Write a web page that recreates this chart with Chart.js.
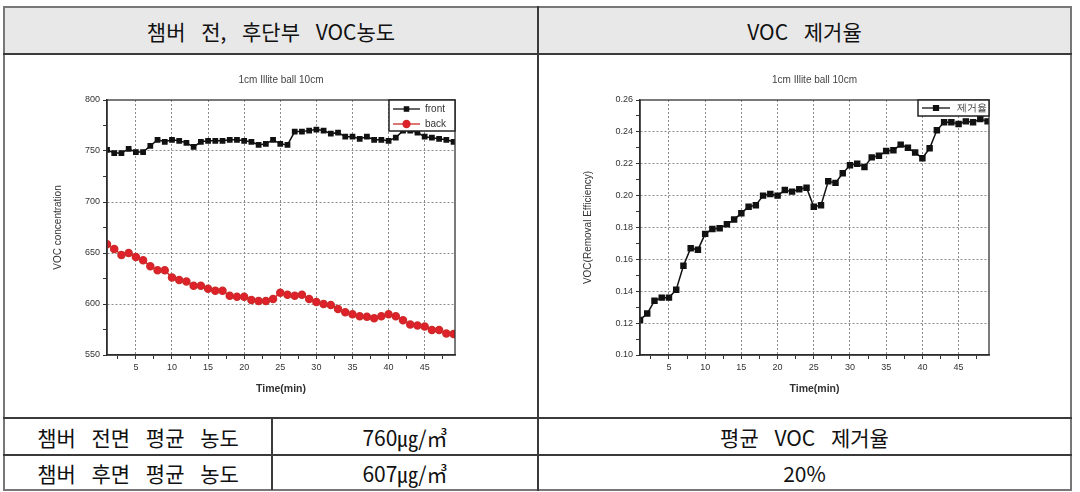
<!DOCTYPE html>
<html><head><meta charset="utf-8">
<script src="https://cdn.jsdelivr.net/npm/chart.js@4.4.0/dist/chart.umd.min.js"></script>
<style>
body{margin:0;background:#fff;width:1080px;height:492px;overflow:hidden;position:relative;font-family:"Noto Sans CJK KR",sans-serif;}
.ln{position:absolute;background:#3a3a3a;}
.lo{position:absolute;background:#777;}
.cell{position:absolute;display:flex;align-items:center;justify-content:center;font-size:21px;color:#111;white-space:nowrap;word-spacing:11px;}
.cv{position:absolute;}
</style></head><body>
<div style="position:absolute;left:4px;top:7px;width:1067px;height:47px;background:#e8e8e8"></div>
<div class="lo" style="left:3px;top:6px;width:1069px;height:2px"></div>
<div class="lo" style="left:3px;top:489px;width:1069px;height:2px"></div>
<div class="lo" style="left:3px;top:6px;width:2px;height:485px"></div>
<div class="lo" style="left:1070px;top:6px;width:2px;height:485px"></div>
<div class="ln" style="left:3px;top:53px;width:1069px;height:2px"></div>
<div class="ln" style="left:3px;top:417px;width:1069px;height:2px"></div>
<div class="ln" style="left:3px;top:454px;width:1069px;height:2px"></div>
<div class="ln" style="left:537px;top:6px;width:2px;height:485px"></div>
<div class="ln" style="left:271px;top:417px;width:2px;height:73px"></div>

<div class="cell" style="left:4px;top:7px;width:534px;height:47px">챔버 전, 후단부 VOC농도</div>
<div class="cell" style="left:538px;top:7px;width:533px;height:47px">VOC 제거율</div>
<div class="cell" style="left:4px;top:418px;width:268px;height:37px">챔버 전면 평균 농도</div>
<div class="cell" style="left:272px;top:418px;width:266px;height:37px">760㎍/㎥</div>
<div class="cell" style="left:538px;top:418px;width:533px;height:37px">평균 VOC 제거율</div>
<div class="cell" style="left:4px;top:455px;width:268px;height:35px">챔버 후면 평균 농도</div>
<div class="cell" style="left:272px;top:455px;width:266px;height:35px">607㎍/㎥</div>
<div class="cell" style="left:538px;top:455px;width:533px;height:35px">20%</div>

<canvas id="c1" class="cv" style="left:40px;top:62px" width="440" height="340"></canvas>
<canvas id="c2" class="cv" style="left:570px;top:62px" width="440" height="340"></canvas>
<script>
const chartTitle = "1cm Illite ball 10cm";
const times = [1,2,3,4,5,6,7,8,9,10,11,12,13,14,15,16,17,18,19,20,21,22,23,24,25,26,27,28,29,30,31,32,33,34,35,36,37,38,39,40,41,42,43,44,45,46,47,48,49];
const frontVOC = [751,748,748,752,749,749,755,761,759,761,760,758,754,759,760,760,760,761,761,760,759,756,757,761,757,756,769,769,770,771,770,767,768,764,764,762,764,761,761,760,763,770,770,768,764,763,762,761,759];
const backVOC = [658.5,654,648,650,646,643,637,633,633,626,623.5,622,618,618,615,613,613,608,607,607,604,603,603,605,611,609,608,609,605,602,600,599,595,592,590,588,587.5,586,588,590,588,584,580,579,578,574.5,574.5,571,570.5];
const removal = [0.122,0.126,0.134,0.136,0.136,0.141,0.156,0.167,0.166,0.176,0.179,0.1795,0.182,0.185,0.189,0.193,0.194,0.200,0.201,0.200,0.2035,0.2025,0.204,0.205,0.193,0.194,0.209,0.208,0.214,0.219,0.220,0.218,0.224,0.225,0.228,0.2285,0.232,0.230,0.227,0.2235,0.2297,0.241,0.246,0.246,0.245,0.2466,0.246,0.248,0.2466];
const xTicks = [2.5,5,7.5,10,12.5,15,17.5,20,22.5,25,27.5,30,32.5,35,37.5,40,42.5,45,47.5];
const xLabels = [5,10,15,20,25,30,35,40,45];
const yTicksVOC = [550,575,600,625,650,675,700,725,750,775,800];
const yLabelsVOC = [550,600,650,700,750,800];
const yTicksEff = [0.10,0.11,0.12,0.13,0.14,0.15,0.16,0.17,0.18,0.19,0.20,0.21,0.22,0.23,0.24,0.25,0.26];
const yLabelsEff = [0.10,0.12,0.14,0.16,0.18,0.20,0.22,0.24,0.26];

const FONT = "'Liberation Sans', Arial, sans-serif";
const near = (a,b)=>Math.abs(a-b)<1e-6;
const isIn = (arr,v)=>arr.some(a=>near(a,v));

const framePlugin = {
  id:'frameLegend',
  afterDraw(chart, args, opts){
    const {ctx, chartArea:a} = chart;
    ctx.save();
    ctx.strokeStyle = '#333'; ctx.lineWidth = 1.3;
    ctx.strokeRect(a.left, a.top, a.right-a.left, a.bottom-a.top);
    const w = opts.w, h = opts.h;
    const x0 = a.right - w, y0 = a.top;
    ctx.fillStyle = '#fff';
    ctx.fillRect(x0, y0, w, h);
    ctx.strokeStyle = '#222'; ctx.lineWidth = 1.5;
    ctx.strokeRect(x0, y0, w, h);
    chart.data.datasets.forEach((ds,i)=>{
      const y = y0 + opts.first + i*opts.rowH;
      ctx.strokeStyle = ds.borderColor; ctx.lineWidth = 1.3;
      ctx.beginPath(); ctx.moveTo(x0+4, y); ctx.lineTo(x0+4+opts.lineLen, y); ctx.stroke();
      ctx.fillStyle = ds.backgroundColor; ctx.strokeStyle = ds.borderColor;
      Chart.helpers.drawPoint(ctx, {pointStyle: ds.pointStyle, radius: ds.pointRadius, rotation:0, borderWidth:1}, x0+4+opts.lineLen/2, y);
      ctx.fillStyle = '#333';
      ctx.font = "10px " + FONT;
      ctx.textBaseline = 'middle'; ctx.textAlign = 'left';
      ctx.fillText(ds.label, x0+opts.textX, y);
    });
    ctx.restore();
  }
};

function makeChart(id, datasets, yMin, yMax, yTicks, yLabels, yTitle, yWidth, padRight, legendOpts, fmt){
  return new Chart(document.getElementById(id), {
    type:'line',
    data:{ datasets },
    options:{
      responsive:false, animation:false,
      layout:{padding:{left:0,right:padRight,top:0,bottom:7}},
      plugins:{
        legend:{display:false}, tooltip:{enabled:false},
        title:{display:true, text:chartTitle, fullSize:false, color:'#444', font:{family:FONT,size:10,weight:'normal'}, padding:{top:12,bottom:14}},
        frameLegend: legendOpts
      },
      scales:{
        x:{type:'linear', min:1, max:49.2,
           afterBuildTicks:(s)=>{ s.ticks = xTicks.map(v=>({value:v})); },
           afterFit:(s)=>{ s.height = 40; },
           ticks:{autoSkip:false, maxRotation:0, color:'#333', font:{family:FONT,size:9}, padding:3,
                  callback:(v)=> isIn(xLabels,v) ? String(v) : ''},
           grid:{color:(c)=> isIn(xLabels,c.tick.value) ? '#8a8a8a' : 'rgba(0,0,0,0)', lineWidth:1, tickColor:'#333', tickLength:4, drawTicks:true},
           border:{display:true, color:'#222', width:1.5, dash:[2,2]},
           title:{display:true, text:'Time(min)', color:'#333', font:{family:FONT,size:10.5,weight:'bold'}, padding:{top:4,bottom:0}}
        },
        y:{type:'linear', min:yMin, max:yMax,
           afterBuildTicks:(s)=>{ s.ticks = yTicks.map(v=>({value:v})); },
           afterFit:(s)=>{ s.width = yWidth; },
           ticks:{autoSkip:false, color:'#333', font:{family:FONT,size:9}, padding:3,
                  callback:(v)=> isIn(yLabels,v) ? fmt(v) : ''},
           grid:{color:(c)=> isIn(yLabels,c.tick.value) && !near(c.tick.value,yMin) && !near(c.tick.value,yMax) ? '#8a8a8a' : 'rgba(0,0,0,0)', lineWidth:1, tickColor:'#333', tickLength:4},
           border:{display:true, color:'#222', width:1.5, dash:[2,2]},
           title:{display:true, text:yTitle, color:'#333', font:{family:FONT,size:10}, padding:{top:12,bottom:12}}
        }
      }
    },
    plugins:[framePlugin]
  });
}

const pts = (ys)=> times.map((t,i)=>({x:t, y:ys[i]}));

makeChart('c1', [
  {label:'front', data:pts(frontVOC), borderColor:'#111', backgroundColor:'#111', pointStyle:'rect', pointRadius:3, borderWidth:1.5, tension:0},
  {label:'back', data:pts(backVOC), borderColor:'#cf2a2a', backgroundColor:'#e0202a', pointStyle:'circle', pointRadius:3.5, borderWidth:1.5, tension:0}
], 550, 800, yTicksVOC, yLabelsVOC, 'VOC concentration', 67, 25,
  {w:66, h:31, first:9, rowH:15, lineLen:27, textX:36}, (v)=>String(v));

makeChart('c2', [
  {label:'제거율', data:pts(removal), borderColor:'#111', backgroundColor:'#111', pointStyle:'rect', pointRadius:3.5, borderWidth:1.5, tension:0}
], 0.10, 0.26, yTicksEff, yLabelsEff, 'VOC(Removal Efficiency)', 70, 21,
  {w:71, h:16, first:8, rowH:15, lineLen:28, textX:39}, (v)=>v.toFixed(2));
</script>
</body></html>
